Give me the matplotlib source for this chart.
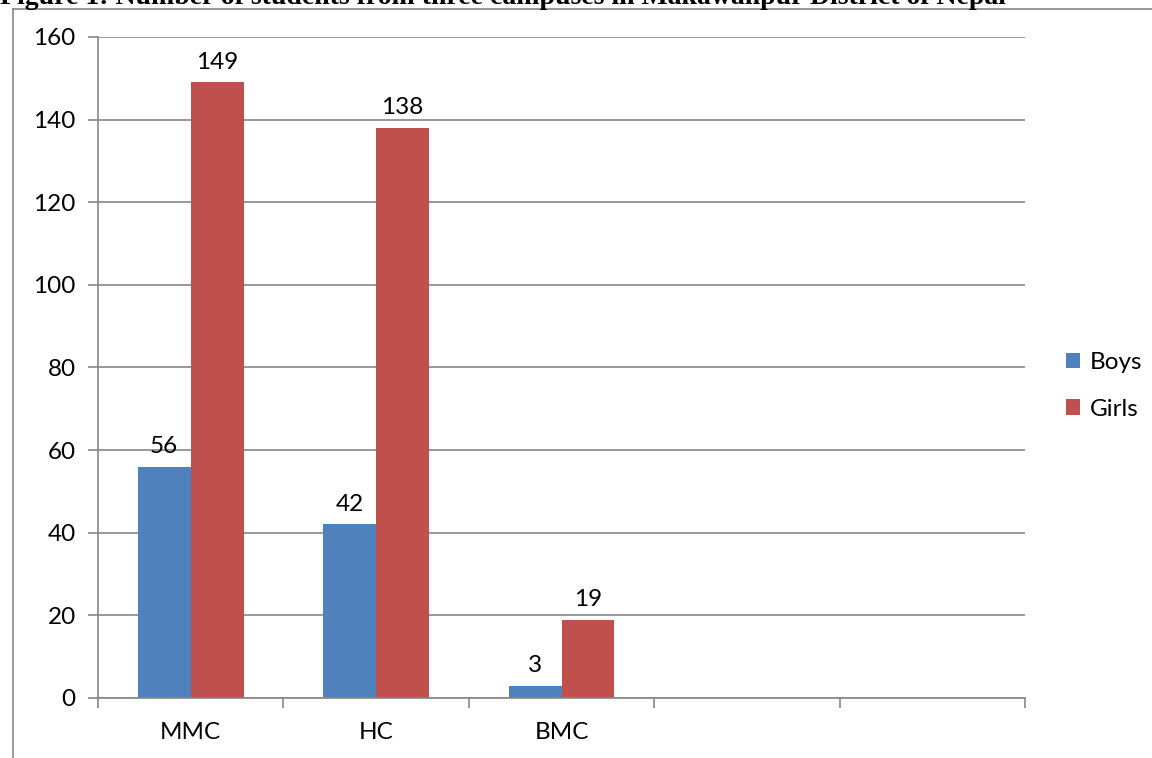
import numpy as np
import matplotlib.pyplot as plt
from matplotlib.lines import Line2D

# data
campuses = ["MMC", "HC", "BMC", "", ""]
boys = [56, 42, 3]
girls = [149, 138, 19]
yticks = [0, 20, 40, 60, 80, 100, 120, 140, 160]

plt.rcParams['font.family'] = ['Lato', 'DejaVu Sans']
fig = plt.figure(figsize=(11.52, 7.58), dpi=100)
ax = fig.add_axes([98/1152, 1-698/758, (1025-98)/1152, (698-37)/758])

blue = '#4f81bd'
red = '#c0504d'
fs = 17.5
w = 1/3.5
x = np.arange(len(boys))
b1 = ax.bar(x - w/2, boys, w, color=blue, label='Boys')
b2 = ax.bar(x + w/2, girls, w, color=red, label='Girls')
ax.bar_label(b1, padding=7, fontsize=fs)
ax.bar_label(b2, padding=7, fontsize=fs)

ax.set_xlim(-0.5, len(campuses) - 0.5)
ax.set_ylim(0, 160)
ax.set_yticks(yticks)
ax.set_xticks(np.arange(len(campuses)))
ax.set_xticklabels(campuses, fontsize=fs)
ax.set_xticks(np.arange(len(campuses) + 1) - 0.5, minor=True)
ax.tick_params(axis='x', which='major', length=0, pad=17)
ax.tick_params(axis='x', which='minor', length=7, color='#868686', width=1.2)
ax.tick_params(axis='y', length=7, color='#868686', width=1.2, labelsize=fs, pad=9)
ax.yaxis.grid(True, color='#868686', linewidth=1.2)
ax.set_axisbelow(True)
for s in ['top', 'right']:
    ax.spines[s].set_visible(False)
ax.spines['left'].set_color('#868686')
ax.spines['bottom'].set_color('#868686')
ax.spines['left'].set_linewidth(1.2)
ax.spines['bottom'].set_linewidth(1.2)

leg = fig.legend(handles=[b1, b2], loc='center left', bbox_to_anchor=(1044/1152, 1-386/758),
                 frameon=False, fontsize=fs, handlelength=0.6, handleheight=0.6,
                 handletextpad=0.4, labelspacing=1.05)

# chart area border (partially visible)
fig.add_artist(Line2D([13/1152, 13/1152], [0, 1-9/758], color='#868686', linewidth=1.2))
fig.add_artist(Line2D([13/1152, 1], [1-9/758, 1-9/758], color='#868686', linewidth=1.2))

fig.text(0, 1-4/758, "Figure 1: Number of students from three campuses in Makawanpur District of Nepal",
         fontsize=20, fontweight='bold', family='Liberation Serif', va='baseline', ha='left')

fig.savefig('out.png', dpi=100)
